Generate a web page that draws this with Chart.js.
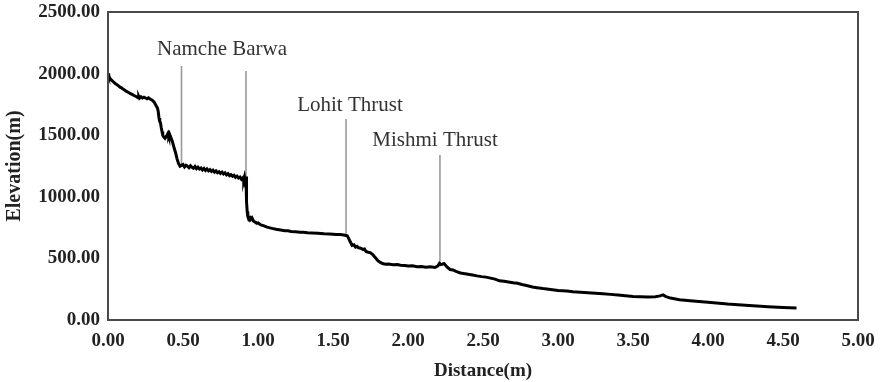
<!DOCTYPE html>
<html>
<head>
<meta charset="utf-8">
<script src="https://cdn.jsdelivr.net/npm/chart.js@4/dist/chart.umd.min.js"></script>
<style>
  html, body { margin: 0; padding: 0; background: #ffffff; }
  #wrap { width: 880px; height: 382px; }
</style>
</head>
<body>
<div id="wrap"><canvas id="c" width="880" height="382"></canvas></div>
<script>
// ---- Data ----
const distance = [
  0.000,0.005,0.012,0.02,0.03,0.04,0.05,0.06,0.07,0.08,0.09,0.10,0.11,0.12,0.13,0.14,0.15,0.16,0.17,0.18,0.19,
  0.20,0.205,0.21,0.22,0.23,0.24,0.25,0.26,0.27,0.28,0.29,0.30,0.31,0.32,0.33,0.335,0.34,0.345,0.35,0.355,0.36,
  0.365,0.37,0.38,0.39,0.40,0.405,0.41,0.42,0.43,0.44,0.45,0.46,0.47,0.48,0.49,0.50,0.51,0.52,0.53,0.54,0.55,
  0.56,0.57,0.58,0.59,0.60,0.61,0.62,0.63,0.64,0.65,0.66,0.67,0.68,0.69,0.70,0.71,0.72,0.73,0.74,0.75,0.76,
  0.77,0.78,0.79,0.80,0.81,0.82,0.83,0.84,0.85,0.86,0.87,0.88,0.89,0.90,0.905,0.91,0.915,0.92,0.922,0.925,
  0.928,0.932,0.94,0.945,0.95,0.96,0.97,0.98,0.99,1.00,1.02,1.04,1.06,1.08,1.10,1.12,1.15,1.18,1.20,1.22,1.25,
  1.28,1.30,1.33,1.36,1.40,1.44,1.48,1.52,1.55,1.58,1.595,1.605,1.615,1.627,1.64,1.65,1.66,1.67,1.68,1.69,1.70,
  1.71,1.72,1.73,1.75,1.767,1.78,1.79,1.80,1.813,1.83,1.85,1.87,1.90,1.93,1.95,1.98,2.00,2.03,2.06,2.09,2.12,
  2.15,2.18,2.20,2.21,2.22,2.24,2.26,2.28,2.30,2.32,2.35,2.38,2.40,2.43,2.46,2.49,2.52,2.55,2.58,2.61,2.64,2.67,
  2.70,2.73,2.76,2.79,2.83,2.86,2.90,2.95,3.00,3.06,3.10,3.15,3.20,3.25,3.30,3.35,3.40,3.45,3.50,3.55,3.60,
  3.65,3.68,3.70,3.72,3.75,3.81,3.90,4.00,4.13,4.20,4.30,4.40,4.50,4.59
];
const elevation = [
  2000,1982,1962,1952,1940,1928,1918,1910,1900,1890,1884,1874,1866,1858,1852,1845,1838,1832,1824,1818,1812,
  1804,1814,1800,1812,1802,1808,1802,1796,1804,1794,1788,1778,1765,1740,1720,1690,1640,1610,1600,1560,1530,
  1500,1488,1475,1492,1515,1494,1510,1480,1445,1400,1360,1310,1270,1248,1255,1262,1242,1256,1248,1236,1252,
  1240,1232,1246,1228,1240,1226,1234,1218,1230,1214,1226,1210,1220,1206,1216,1200,1210,1196,1204,1190,1200,
  1185,1194,1178,1188,1172,1180,1166,1174,1158,1168,1152,1160,1142,1155,1135,1160,1125,1165,1050,960,
  880,840,812,845,815,828,802,795,786,788,772,764,754,748,742,736,730,724,724,718,716,
  712,713,708,706,704,700,698,694,694,688,684,660,635,605,610,592,598,586,584,580,572,
  576,556,552,545,528,510,495,480,470,458,452,455,448,450,444,442,438,440,432,435,428,
  432,426,440,460,450,458,430,410,406,395,382,376,372,365,358,352,348,340,332,318,314,308,
  302,298,288,280,268,262,255,248,240,235,230,226,222,218,214,208,202,196,190,188,186,
  188,196,204,190,178,165,155,145,130,124,115,108,102,97
];

// Fault marker lines (distance, top and bottom elevation)
const markerDistance = [0.49, 0.92, 1.587, 2.213];
const markerTop      = [2062, 2021, 1631, 1339];
const markerBottom   = [1262, 1160, 690, 455];

// Marker text labels (text, anchor distance, anchor elevation)
const labelText      = ["Namche Barwa", "Lohit Thrust", "Mishmi Thrust"];
const labelDistance  = [0.76, 1.613, 2.18];
const labelElevation = [2192, 1745, 1461];

// Axis ticks
const xTicks = [0, 0.5, 1, 1.5, 2, 2.5, 3, 3.5, 4, 4.5, 5];
const yTicks = [0, 500, 1000, 1500, 2000, 2500];

const SERIF = '"Liberation Serif", "Times New Roman", serif';

const profile = distance.map((d, i) => ({ x: d, y: elevation[i] }));

const markerSets = markerDistance.map((d, i) => ({
  data: [{ x: d, y: markerTop[i] }, { x: d, y: markerBottom[i] }],
  borderColor: '#9a9a9a',
  borderWidth: 1.6,
  pointRadius: 0,
  showLine: true,
  order: 2
}));

const boxPlugin = {
  id: 'box',
  afterDraw(chart) {
    const { ctx, chartArea: a } = chart;
    ctx.save();
    ctx.strokeStyle = '#4a4a4a';
    ctx.lineWidth = 2;
    ctx.strokeRect(a.left, a.top, a.right - a.left, a.bottom - a.top);
    ctx.restore();
  }
};

const labelPlugin = {
  id: 'labels',
  afterDatasetsDraw(chart) {
    const { ctx, scales } = chart;
    ctx.save();
    ctx.font = '21px ' + SERIF;
    ctx.fillStyle = '#333333';
    ctx.textAlign = 'center';
    ctx.textBaseline = 'middle';
    labelText.forEach((t, i) => {
      ctx.fillText(t, scales.x.getPixelForValue(labelDistance[i]), scales.y.getPixelForValue(labelElevation[i]));
    });
    ctx.restore();
  }
};

function noPad(scale) {
  scale.paddingLeft = 0; scale.paddingRight = 0;
  scale.paddingTop = 0; scale.paddingBottom = 0;
}

new Chart(document.getElementById('c'), {
  type: 'scatter',
  data: {
    datasets: [
      {
        data: profile,
        showLine: true,
        borderColor: '#000000',
        borderWidth: 3,
        pointRadius: 0,
        tension: 0,
        order: 1
      },
      ...markerSets
    ]
  },
  options: {
    responsive: false,
    animation: false,
    events: [],
    layout: { padding: { top: 12, right: 22, left: 0, bottom: 0 } },
    plugins: { legend: { display: false }, tooltip: { enabled: false } },
    scales: {
      x: {
        type: 'linear',
        min: 0, max: 5,
        afterBuildTicks(scale) { scale.ticks = xTicks.map(v => ({ value: v })); },
        afterFit(scale) { scale.height = 62; noPad(scale); },
        grid: { display: false, drawTicks: false },
        border: { display: false },
        ticks: {
          padding: 10,
          color: '#222',
          font: { family: SERIF, size: 19, weight: 'bold' },
          maxRotation: 0,
          callback: v => Number(v).toFixed(2)
        },
        title: {
          display: true,
          text: 'Distance(m)',
          color: '#222',
          font: { family: SERIF, size: 19, weight: 'bold' },
          padding: { top: 0, bottom: 0 }
        }
      },
      y: {
        type: 'linear',
        min: 0, max: 2500,
        afterBuildTicks(scale) { scale.ticks = yTicks.map(v => ({ value: v })); },
        afterFit(scale) { scale.width = 108; noPad(scale); },
        grid: { display: false, drawTicks: false },
        border: { display: false },
        ticks: {
          padding: 8,
          color: '#222',
          font: { family: SERIF, size: 19, weight: 'bold' },
          callback: v => Number(v).toFixed(2)
        },
        title: {
          display: true,
          text: 'Elevation(m)',
          color: '#222',
          font: { family: SERIF, size: 20, weight: 'bold' },
          padding: { top: 3, bottom: 0 }
        }
      }
    }
  },
  plugins: [boxPlugin, labelPlugin]
});
</script>
</body>
</html>
